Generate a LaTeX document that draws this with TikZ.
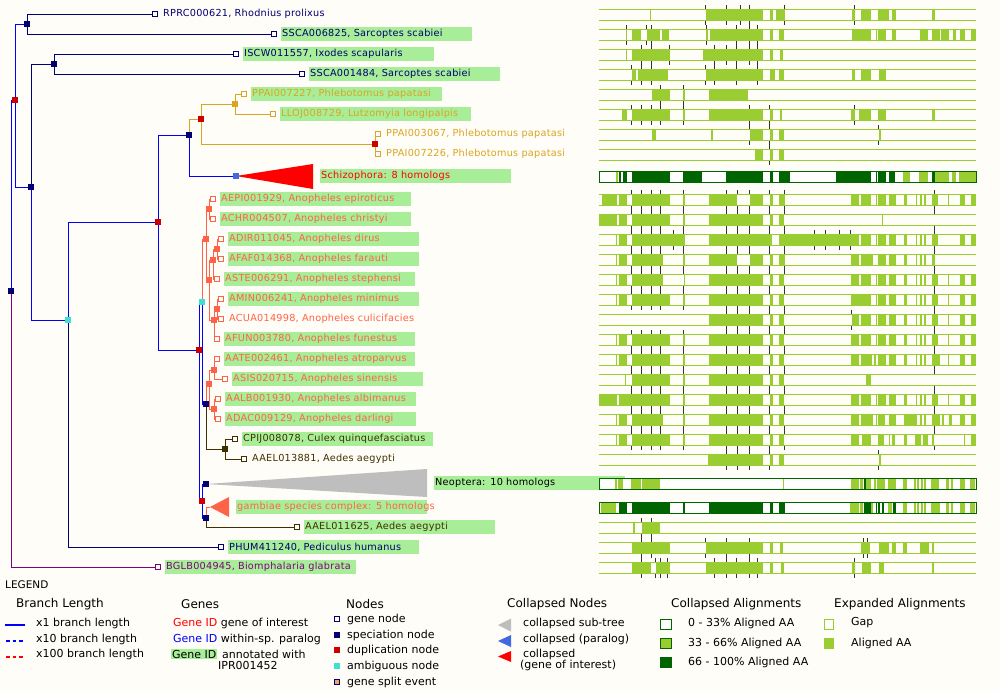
\documentclass[tikz,border=0pt]{standalone}
\usepackage{fontspec}
\setmainfont{DejaVu Sans}
\newfontfamily\lbfam[LetterSpace=2.6]{DejaVu Sans}
\usetikzlibrary{positioning}
\pgfdeclarelayer{back}
\pgfdeclarelayer{edges}
\pgfsetlayers{back,edges,main}
\definecolor{navyc}{HTML}{000070}
\definecolor{bluec}{HTML}{0000FF}
\definecolor{goldc}{HTML}{DAA520}
\definecolor{tomc}{HTML}{FF6347}
\definecolor{brnc}{HTML}{403000}
\definecolor{purc}{HTML}{800080}
\definecolor{redc}{HTML}{CC0000}
\definecolor{redt}{HTML}{FF0000}
\definecolor{turq}{HTML}{40E0D0}
\definecolor{royc}{HTML}{4169E1}
\definecolor{hlg}{HTML}{A8EE98}
\definecolor{ygr}{HTML}{9ACD32}
\definecolor{dgr}{HTML}{006400}
\definecolor{bgc}{HTML}{FFFDF8}
\definecolor{gryc}{HTML}{BEBEBE}
\definecolor{splc}{HTML}{F4A460}
\definecolor{tickc}{HTML}{333333}
\newcommand\lbf{\lbfam\fontsize{9.7}{11}\selectfont}
\newcommand\lgf{\fontsize{11}{11}\selectfont}
\newcommand\hdf{\fontsize{12}{13}\selectfont}
\begin{document}
\begin{tikzpicture}[x=1pt,y=-1pt,
        gn/.style={draw=#1,fill=white,line width=1pt,minimum size=5pt,inner sep=0pt},
        sq/.style={fill=#1,minimum size=6pt,inner sep=0pt},
        br/.style={draw=#1,line width=1pt},
        lab/.style={text=#1,font=\lbf,inner sep=1pt,minimum height=14pt,text width=189pt,align=left},
        lg/.style={anchor=west,font=\lgf,inner sep=0pt},
        hd/.style={anchor=west,font=\hdf,inner sep=0pt},
        tk/.style={draw=tickc,line width=0.8pt}]
    \begin{pgfonlayer}{back}
        \fill[bgc] (0,0) rectangle (1000,691);
    \end{pgfonlayer}
% innere Knoten
    \node[sq=navyc] (n0)  at (11,291)  {};
    \node[sq=redc]  (n1)  at (15,100)  {};
    \node[sq=navyc] (n2)  at (27,24)   {};
    \node[sq=navyc] (n3)  at (31,187)  {};
    \node[sq=navyc] (n4)  at (54,64)   {};
    \node[sq=turq]  (n5)  at (68,320)  {};
    \node[sq=redc]  (n6)  at (158,222) {};
    \node[sq=navyc] (n7)  at (189,135) {};
    \node[sq=redc]  (n8)  at (201,119) {};
    \node[sq=goldc] (n9)  at (235,104) {};
    \node[sq=redc]  (n10) at (375,144) {};
    \node[sq=royc]  (n11) at (236,176) {};
    \node[sq=redc]  (n12) at (199,350) {};
    \node[sq=turq]  (n13) at (202,302) {};
    \node[sq=tomc]  (n14) at (206,239) {};
    \node[sq=tomc]  (n15) at (209,209) {};
    \node[sq=tomc]  (n16) at (209,280) {};
    \node[sq=tomc]  (n17) at (213,260) {};
    \node[sq=tomc]  (n18) at (217,249) {};
    \node[sq=tomc]  (n19) at (214,320) {};
    \node[sq=tomc]  (n20) at (217,309) {};
    \node[sq=navyc] (n21) at (206,404) {};
    \node[sq=tomc]  (n22) at (209,384) {};
    \node[sq=tomc]  (n23) at (214,370) {};
    \node[sq=tomc]  (n24) at (214,409) {};
    \node[sq=brnc]  (n25) at (225,449) {};
    \node[sq=redc]  (n26) at (202,501) {};
    \node[sq=navyc] (n27) at (206,484) {};
    \node[sq=navyc] (n28) at (206,518) {};
    \coordinate     (n29) at (210,507);
% Gene
    \foreach \n/\x/\y/\c/\f/\t in {g1/155/14/navyc/none/{RPRC000621, Rhodnius prolixus},
        g2/274/34/navyc/hlg/{SSCA006825, Sarcoptes scabiei},
        g3/236/54/navyc/hlg/{ISCW011557, Ixodes scapularis},
        g4/302/74/navyc/hlg/{SSCA001484, Sarcoptes scabiei},
        g5/244/94/goldc/hlg/{PPAI007227, Phlebotomus papatasi},
        g6/273/114/goldc/hlg/{LLOJ008729, Lutzomyia longipalpis},
        g7/378/134/goldc/none/{PPAI003067, Phlebotomus papatasi},
        g8/378/154/goldc/none/{PPAI007226, Phlebotomus papatasi},
        g10/213/199/tomc/hlg/{AEPI001929, Anopheles epiroticus},
        g11/213/219/tomc/hlg/{ACHR004507, Anopheles christyi},
        g12/221/239/tomc/hlg/{ADIR011045, Anopheles dirus},
        g13/221/259/tomc/hlg/{AFAF014368, Anopheles farauti},
        g14/217/279/tomc/hlg/{ASTE006291, Anopheles stephensi},
        g15/221/299/tomc/hlg/{AMIN006241, Anopheles minimus},
        g16/221/319/tomc/none/{ACUA014998, Anopheles culicifacies},
        g17/217/339/tomc/hlg/{AFUN003780, Anopheles funestus},
        g18/217/359/tomc/hlg/{AATE002461, Anopheles atroparvus},
        g19/225/379/tomc/hlg/{ASIS020715, Anopheles sinensis},
        g20/218/399/tomc/hlg/{AALB001930, Anopheles albimanus},
        g21/218/419/tomc/hlg/{ADAC009129, Anopheles darlingi},
        g22/235/439/brnc/hlg/{CPIJ008078, Culex quinquefasciatus},
        g23/244/459/brnc/none/{AAEL013881, Aedes aegypti},
        g26/297/527/brnc/hlg/{AAEL011625, Aedes aegypti},
        g27/221/547/navyc/hlg/{PHUM411240, Pediculus humanus},
        g28/158/567/purc/hlg/{BGLB004945, Biomphalaria glabrata}}
        {\node[gn=\c] (\n) at (\x,\y) {};
         \node[lab=\c, fill=\f, right=4pt of \n] (t\n) {\mbox{\t}};}
% Zweige
    \begin{pgfonlayer}{edges}
        \foreach \p/\q/\c in {n0/n1/bluec, n0/g28/purc, n1/n2/bluec, n1/n3/bluec, n2/g1/navyc, n2/g2/navyc,
            n3/n4/navyc, n3/n5/bluec, n4/g3/navyc, n4/g4/navyc, n5/n6/bluec, n5/g27/navyc,
            n6/n7/bluec, n6/n12/bluec, n7/n8/goldc, n7/n11/bluec, n8/n9/goldc, n8/n10/goldc,
            n9/g5/goldc, n9/g6/goldc, n10/g7/goldc, n10/g8/goldc, n12/n13/bluec, n12/n26/bluec,
            n13/n14/tomc, n13/n21/bluec, n14/n15/tomc, n14/n16/tomc, n15/g10/tomc, n15/g11/tomc,
            n16/n17/tomc, n16/n19/tomc, n17/n18/tomc, n17/g14/tomc, n18/g12/tomc, n18/g13/tomc,
            n19/n20/tomc, n19/g17/tomc, n20/g15/tomc, n20/g16/tomc, n21/n22/tomc, n21/n25/brnc,
            n22/n23/tomc, n22/n24/tomc, n23/g18/tomc, n23/g19/tomc, n24/g20/tomc, n24/g21/tomc,
            n25/g22/brnc, n25/g23/brnc, n26/n27/bluec, n26/n28/bluec, n28/n29/tomc, n28/g26/brnc}
            {\draw[br=\c] (\p.center) |- (\q.center);}
        \fill[redt] (n11.center) -- (313,164) -- (313,189) -- cycle;
        \fill[gryc] (n27.center) -- (427,469) -- (427,497) -- cycle;
        \fill[tomc] (n29) -- (229,497) -- (229,517) -- cycle;
    \end{pgfonlayer}
    \node[lab=redt, fill=hlg, anchor=west]  (c1) at (320,176) {\mbox{Schizophora: 8 homologs}};
    \node[lab=black, fill=hlg, anchor=west] (c2) at (434,483) {\mbox{Neoptera: 10 homologs}};
    \node[lab=tomc, fill=hlg, anchor=west]  (c3) at (236,507) {\mbox{gambiae species complex: 5 homologs}};
% Alignments
    \foreach \y/\bl/\tk in {14.8/{650/651,706/763,770/773,776/785,852/855,861/871,878/889,892/896,932/935}/{705,726,740,749,784,854},
        34.8/{626/627,632/641,647/660,662/669,706/708,710/763,770/773,779/784,852/871,876/877,878/886,892/896,920/928,932/940,941/949,953/956,960/965,971/976}/{626,646,651,706,736,749,757},
        54.8/{626/627,632/670,703/763,770/773,780/783}/{641,651,669,714,726,736,749,757},
        74.8/{632/636,638/668,706/763,770/775,779/784,852/855,861/871,879/886}/{631,641,651,705,714,736,757},
        94.8/{652/670,683/685,709/748}/{660,683},
        114.8/{622/627,632/670,683/685,709/763,770/773,780/782,851/855,859/871,878/886,932/935}/{631,641,651,660,683,749,769,854},
        134.8/{652/656,711/713,750/763,770/773,779/784,879/881}/{749,769,878},
        154.8/{755/763,770/773,779/784}/{769},
        199.8/{602/617,619/627,632/670,683/685,709/737,750/763,770/773,779/785,851/859,861/871,876/877,878/886,889/896,904/907,916/917,920/922,924/926,932/938,948/949,960/965,971/976}/{631,641,651,660,683,726,737,749,769,784,934},
        219.8/{599/617,619/627,632/670,683/685,709/763,770/773,779/784,882/883}/{631,641,651,660,683,726,737,749,769,784,934},
        239.8/{616/617,619/627,632/685,709/772,779/859,861/871,876/877,878/886,889/896,904/907,916/917,920/922,924/926,932/938,960/965,971/976}/{631,641,651,660,673,683,726,737,749,769,784,814,825,839,850,934},
        259.8/{616/617,619/627,632/663,683/685,709/737,750/763,770/773,779/785,851/859,861/873,878/886,889/896,904/907,916/917,920/922,924/926,932/935}/{631,641,651,660,683,726,737,749,769,784,934},
        279.8/{616/617,619/627,632/663,684/685,709/763,770/773,779/784,851/859,861/871,876/877,878/886,889/896,904/907,916/917,920/922,924/926,932/938,948/949,960/965,971/976}/{631,641,651,660,683,726,737,749,769,784,934},
        299.8/{616/617,619/627,632/670,683/685,709/763,770/773,779/784,851/871,876/877,878/886,889/896,904/907,916/917,920/922,924/926,932/938,948/949,960/965,971/976}/{631,641,651,660,683,726,737,749,769,784,934},
        319.8/{709/763,770/773,779/784,852/859,861/871,876/877,878/886,889/896,904/907,916/917,920/922,924/926,932/938,948/949,960/965,971/976}/{726,737,749,769,784,851,934},
        339.8/{616/617,619/627,632/670,683/685,709/763,770/773,779/784,851/859,861/871,876/877,878/886,889/896,904/907,916/917,920/922,924/926,932/938,948/949,960/965,971/976}/{631,641,651,660,683,726,737,749,769,784,934},
        359.8/{616/617,619/627,632/670,683/685,709/763,770/773,779/784,851/859,861/872,874/876,878/886,889/896,904/907,916/917,920/922,924/926,932/940,948/949,960/965,971/976}/{631,641,651,660,683,726,737,749,769,784,934},
        379.8/{625/626,632/670,683/685,709/763,770/773,779/784,866/871}/{631,641,651,660,683,726,737,749,769,784,934},
        399.8/{599/617,619/670,683/685,709/763,770/773,779/784,851/859,861/871,876/877,878/886,889/896,904/907,916/917,920/922,924/926,932/938,948/949,960/965,971/976}/{631,641,651,660,683,726,737,749,769,784,934},
        419.8/{616/617,619/627,632/663,683/685,709/763,770/773,779/784,851/859,861/873,876/877,878/885,889/896,904/917,920/922,924/926,932/940,942/944,949/952,960/965,971/976}/{631,641,651,660,683,726,737,749,769,784,934},
        439.8/{616/617,619/627,632/670,683/685,709/763,770/773,779/784,851/859,862/871,878/884,889/890,892/895,904/907,915/921,923/928,932/934,964/965,971/976}/{631,641,651,660,683,726,737,749,769,784,934},
        459.8/{708/763,770/773,779/784,879/881}/{726,737,749,769,878},
        527.8/{633/635,642/660}/{641,651},
        547.8/{632/670,706/763,770/773,780/783,861/870,879/889,892/896,903/907,920/929,932/934}/{641,651,705,726,749,863,867},
        567.8/{632/651,656/670,706/763,770/773,781/784,852/855,862/871,879/884,932/934}/{641,655,660,667,714,726,736,749,757,854}}{
        \draw[ygr,line width=1pt] (599,\y-5.5) -- (976,\y-5.5) (599,\y+5.5) -- (976,\y+5.5);
        \foreach \a/\b in \bl {\fill[ygr] (\a,\y-5.5) rectangle (\b,\y+5.5);}
        \foreach \t in \tk {\draw[tk] (\t,\y-10) -- (\t,\y-6) (\t,\y+6) -- (\t,\y+10);}
    }
    \foreach \y/\lb/\db in {176.8/{616/618,903/910,919/928,935/949,952/956,959/976}/{619/621,623/627,632/670,683/702,726/763,770/773,779/790,836/871,876/877,878/886,889/895,932/935},
        483.8/{615/617,618/623,631/641,642/660,783/784,851/859,860/863,866/871,874/876,877/885,888/896,903/907,914/916,917/919,921/923,924/926,931/939,946/949,951/953,960/965,970/975}/{864/866},
        507.8/{601/616,850/859,860/863,871/873,888/892,903/907,914/916,917/919,921/923,924/926,931/940,946/949,951/953,960/965,970/975}/{619/627,632/670,683/685,709/763,770/773,779/785,864/871,876/877,878/880,882/884,893/896}}{
        \fill[white] (599,\y-5.5) rectangle (976,\y+5.5);
        \foreach \a/\b in \lb {\fill[ygr] (\a,\y-5.5) rectangle (\b,\y+5.5);}
        \foreach \a/\b in \db {\fill[dgr] (\a,\y-5.5) rectangle (\b,\y+5.5);}
        \draw[dgr,line width=1pt] (599,\y-5.5) rectangle (976,\y+5.5);
    }
% Legende
    \node[lg, font=\fontsize{10.5}{12}\selectfont] (lgd) at (5,585) {LEGEND};
    \foreach \x/\t [count=\i] in {16/Branch Length, 181/Genes, 346/Nodes, 507/Collapsed Nodes, 671/Collapsed Alignments, 834/Expanded Alignments}
        {\node[hd] (h\i) at (\x,604) {\t};}
    \draw[draw=bluec, line width=1.2pt] (5,625) -- (25,625);
    \draw[draw=bluec, line width=1.2pt, dash pattern=on 3.5pt off 3pt] (6,641) -- (25,641);
    \draw[draw=redt, line width=1.2pt, dash pattern=on 3.5pt off 3pt] (6,657) -- (25,657);
    \foreach \y/\t [count=\i] in {623/x1 branch length, 639/x10 branch length, 654/x100 branch length}
        {\node[lg] (bl\i) at (36,\y) {\t};}
    \node[lg] (ge1) at (173,623) {\textcolor{redt}{Gene ID} gene of interest};
    \node[lg] (ge2) at (173,639) {\textcolor{bluec}{Gene ID} within-sp. paralog};
    \node[lg, fill=hlg, inner sep=1pt] (ge3) at (171,654) {Gene ID};
    \node[lg] (ge4) at (222,654) {annotated with};
    \node[lg] (ge5) at (218,665) {IPR001452};
    \node[gn=navyc]            (k1) at (337,619) {};
    \node[sq=navyc]            (k2) at (337,635) {};
    \node[sq=redc]             (k3) at (337,650) {};
    \node[sq=turq]             (k4) at (337,666) {};
    \node[gn=navyc, fill=splc] (k5) at (337,682) {};
    \foreach \y/\t [count=\i] in {619/gene node, 635/speciation node, 650/duplication node, 666/ambiguous node, 682/gene split event}
        {\node[lg] (kt\i) at (347,\y) {\t};}
    \fill[gryc] (498,625) -- (511,618.5) -- (511,631.5) -- cycle;
    \fill[royc] (498,641) -- (511,635) -- (511,647) -- cycle;
    \fill[redt] (498,656.5) -- (511,651) -- (511,662) -- cycle;
    \node[lg] (cn1) at (523,623) {collapsed sub-tree};
    \node[lg] (cn2) at (523,639) {collapsed (paralog)};
    \node[lg] (cn3) at (523,654) {collapsed};
    \node[lg] (cn4) at (520,665) {(gene of interest)};
    \draw[dgr, line width=1pt, fill=white] (660.5,619.5) rectangle (671.5,629.5);
    \draw[dgr, line width=1pt, fill=ygr] (660.5,638.5) rectangle (671.5,648.5);
    \fill[dgr] (660,657) rectangle (672,668);
    \node[lg] (ca1) at (688,623) {0 - 33\% Aligned AA};
    \node[lg] (ca2) at (688,643) {33 - 66\% Aligned AA};
    \node[lg] (ca3) at (688,662) {66 - 100\% Aligned AA};
    \draw[ygr, line width=1pt, fill=white] (824.5,619.5) rectangle (833.5,629.5);
    \fill[ygr] (824,638) rectangle (834,649);
    \node[lg] (ea1) at (851,623) {Gap};
    \node[lg] (ea2) at (851,643) {Aligned AA};
\end{tikzpicture}
\end{document}
